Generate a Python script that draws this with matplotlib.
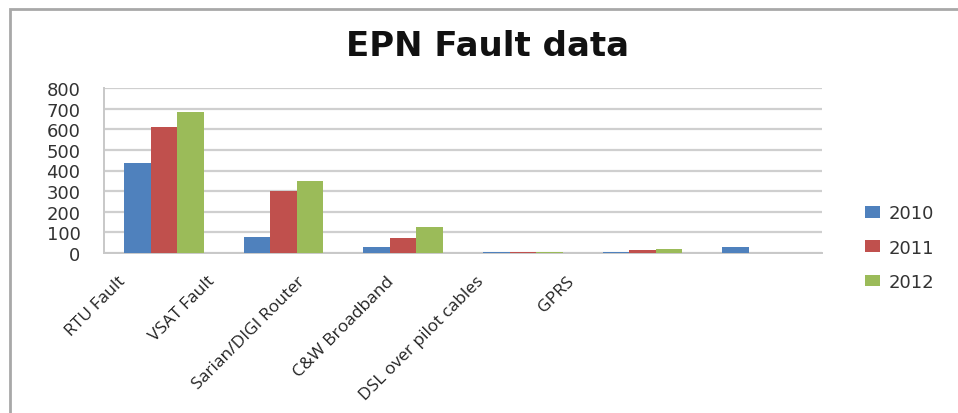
import numpy as np
import matplotlib
matplotlib.use("Agg")
import matplotlib.pyplot as plt
from matplotlib.patches import Rectangle
from matplotlib.transforms import blended_transform_factory

categories = ["RTU Fault", "VSAT Fault", "Sarian/DIGI Router", "C&W Broadband",
              "DSL over pilot cables", "GPRS"]
years = ["2010", "2011", "2012"]
v2010 = [435, 76, 31, 5, 7, 30]
v2011 = [610, 302, 71, 5, 15, 0]
v2012 = [686, 351, 125, 5, 17, 0]
colors = ["#4F81BD", "#C0504D", "#9BBB59"]

W, H = 958, 414
fig = plt.figure(figsize=(W / 100, H / 100), dpi=100)
ax = fig.add_axes([104 / W, 1 - 254 / H, (822 - 104) / W, (254 - 89) / H])

x = np.arange(len(categories))
bw = 0.222
for k, (vals, lab, c) in enumerate(zip([v2010, v2011, v2012], years, colors)):
    ax.bar(x + (k - 1) * bw, vals, bw, color=c, label=lab, zorder=3)

ax.set_xlim(-0.5, len(categories) - 0.5)
ax.set_ylim(0, 800)
ax.set_yticks(np.arange(0, 801, 100))
ax.yaxis.grid(True, color="#cfcfcf", lw=1.6, zorder=0)
ax.set_axisbelow(True)
for s in ["top", "right"]:
    ax.spines[s].set_visible(False)
for s in ["left", "bottom"]:
    ax.spines[s].set_color("#c8c8c8")
    ax.spines[s].set_linewidth(1.4)
ax.tick_params(axis="y", length=0, pad=17, labelsize=13, labelcolor="#333333")
ax.set_xticks([])
for t in ax.get_yticklabels():
    t.set_fontfamily("DejaVu Sans")

# category labels: rotated, anchored at their upper right end
trans = blended_transform_factory(ax.transData, ax.transAxes)
for i, lab in enumerate(categories):
    ax.text(-0.39 + 0.75 * i, -0.12, lab, transform=trans, rotation=45,
            rotation_mode="anchor", ha="right", va="top", fontsize=12.5,
            family="Open Sans", color="#222222", clip_on=False)

fig.text(487 / W, 1 - 46 / H, "EPN Fault data", ha="center", va="center",
         fontsize=24.5, fontweight="bold", family="DejaVu Sans", color="#111111")

fig.legend(loc="upper left", bbox_to_anchor=(849 / W, 1 - 189 / H), frameon=False,
           fontsize=13, handlelength=0.8, handleheight=0.6, handletextpad=0.5,
           labelspacing=0.9, labelcolor="#333333")

# outer chart frame (only top and left edges are visible in the crop)
fig.patches.append(Rectangle((10, -20), W, H + 10, transform=None, fill=False,
                             edgecolor="#a8a8a8", lw=2))

fig.savefig("out.png", dpi=100)
